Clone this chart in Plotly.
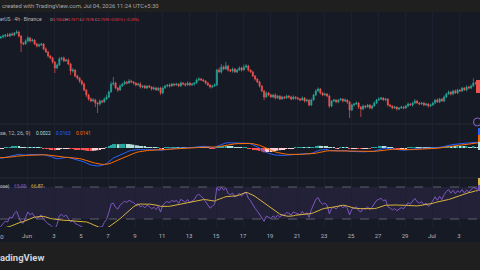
import numpy as np
import pandas as pd
import plotly.graph_objects as go

# ---------------- data ----------------
# closes of the candles before the visible window (used only to warm up indicators)
warmup_closes = [0.994, 0.989, 0.9915, 0.9865, 0.984, 0.9865, 0.9815, 0.979, 0.9815, 0.9765,
                 0.974, 0.9765, 0.9715, 0.969, 0.9715, 0.9665, 0.964, 0.9665, 0.9615, 0.964,
                 0.959, 0.9565, 0.959, 0.954, 0.9565, 0.9515, 0.954, 0.949, 0.9515, 0.9465,
                 0.9415, 0.934, 0.9365, 0.9265, 0.9215, 0.924, 0.914, 0.909, 0.9115, 0.9015,
                 0.8965, 0.899, 0.8915, 0.8865, 0.889, 0.8815, 0.8765, 0.879, 0.874]

# 4h closes, 2026-05-30 01:30 -> 2026-07-04 09:30 (UTC+5:30)
closes = [
    0.8765, 0.879, 0.8815, 0.879, 0.884, 0.8815,     # May 30
    0.8865, 0.889, 0.879, 0.8615, 0.859, 0.8665,     # May 31
    0.874, 0.8665, 0.869, 0.859, 0.854, 0.8565,      # Jun 1
    0.859, 0.8465, 0.839, 0.829, 0.824, 0.814,       # Jun 2
    0.799, 0.8065, 0.8215, 0.824, 0.8165, 0.819,     # Jun 3
    0.809, 0.7915, 0.794, 0.779, 0.774, 0.7665,      # Jun 4
    0.759, 0.744, 0.7315, 0.7215, 0.7165, 0.719,     # Jun 5
    0.7115, 0.709, 0.7165, 0.714, 0.7215, 0.7265,    # Jun 6
    0.739, 0.759, 0.7615, 0.749, 0.744, 0.754,       # Jun 7
    0.759, 0.764, 0.7615, 0.7665, 0.764, 0.7615,     # Jun 8
    0.7565, 0.759, 0.7515, 0.754, 0.749, 0.754,      # Jun 9
    0.7515, 0.7465, 0.749, 0.744, 0.749, 0.7365,     # Jun 10
    0.749, 0.754, 0.7565, 0.754, 0.759, 0.7565,      # Jun 11
    0.759, 0.754, 0.7615, 0.759, 0.7565, 0.7615,     # Jun 12
    0.7565, 0.759, 0.7615, 0.769, 0.7715, 0.769,     # Jun 13
    0.7665, 0.7615, 0.7565, 0.7515, 0.754, 0.7565,   # Jun 14
    0.794, 0.789, 0.8015, 0.7965, 0.804, 0.794,      # Jun 15
    0.7915, 0.7965, 0.789, 0.794, 0.799, 0.794,      # Jun 16
    0.8015, 0.804, 0.794, 0.789, 0.779, 0.7715,      # Jun 17
    0.764, 0.754, 0.7415, 0.7265, 0.7365, 0.7315,    # Jun 18
    0.7265, 0.7315, 0.724, 0.729, 0.7215, 0.7265,    # Jun 19
    0.724, 0.729, 0.7265, 0.7215, 0.7265, 0.724,     # Jun 20
    0.7215, 0.719, 0.724, 0.7165, 0.719, 0.7065,     # Jun 21
    0.719, 0.7315, 0.7415, 0.7465, 0.7365, 0.7315,   # Jun 22
    0.734, 0.729, 0.704, 0.7165, 0.719, 0.714,       # Jun 23
    0.719, 0.7215, 0.7165, 0.719, 0.714, 0.694,      # Jun 24
    0.7065, 0.709, 0.7115, 0.7015, 0.6965, 0.704,    # Jun 25
    0.7015, 0.7065, 0.699, 0.704, 0.7115, 0.719,     # Jun 26
    0.7215, 0.724, 0.719, 0.7215, 0.7065, 0.704,     # Jun 27
    0.699, 0.7015, 0.6965, 0.699, 0.7015, 0.699,     # Jun 28
    0.704, 0.709, 0.7065, 0.7115, 0.7165, 0.7115,    # Jun 29
    0.709, 0.7115, 0.7065, 0.709, 0.704, 0.7065,     # Jun 30
    0.7115, 0.719, 0.714, 0.7215, 0.7165, 0.7265,    # Jul 1
    0.734, 0.739, 0.734, 0.7415, 0.7365, 0.744,      # Jul 2
    0.7415, 0.749, 0.744, 0.7515, 0.749, 0.754,      # Jul 3
    0.7615, 0.7604, 0.7590,                          # Jul 4
]

upper_wick = [
    .003, .004, .002, .005, .003, .004,  .002, .005, .003, .002, .003, .004,
    .005, .003, .004, .002, .003, .004,  .003, .002, .004, .003, .002, .003,
    .002, .004, .005, .003, .004, .003,  .004, .003, .005, .002, .003, .002,
    .003, .004, .002, .003, .004, .005,  .003, .002, .004, .003, .004, .006,
    .004, .006, .015, .003, .002, .004,  .003, .004, .002, .005, .003, .002,
    .002, .003, .004, .002, .003, .002,  .003, .002, .004, .003, .002, .003,
    .004, .003, .002, .004, .003, .002,  .003, .002, .004, .002, .003, .004,
    .002, .003, .002, .004, .005, .003,  .003, .002, .003, .002, .003, .004,
    .003, .006, .008, .004, .010, .003,  .003, .004, .002, .003, .004, .003,
    .006, .005, .003, .002, .003, .002,  .002, .003, .002, .003, .004, .003,
    .003, .002, .004, .003, .002, .003,  .002, .003, .002, .003, .004, .002,
    .003, .002, .004, .002, .003, .002,  .004, .003, .005, .004, .002, .003,
    .003, .002, .003, .002, .003, .002,  .002, .003, .002, .004, .002, .003,
    .003, .002, .004, .002, .003, .004,  .002, .003, .002, .003, .004, .003,
    .004, .003, .002, .003, .002, .003,  .002, .003, .002, .002, .003, .002,
    .003, .004, .002, .003, .005, .002,  .002, .003, .002, .003, .002, .003,
    .003, .002, .004, .003, .002, .004,  .003, .004, .002, .003, .004, .003,
    .002, .003, .002, .004, .003, .004,  .0115, .003, .0067,
]

lower_wick = [
    .002, .003, .004, .002, .003, .002,  .003, .002, .004, .0225, .003, .002,
    .003, .004, .002, .003, .004, .003,  .002, .003, .002, .004, .003, .004,
    .0125, .003, .002, .004, .003, .002,  .003, .010, .004, .003, .004, .005,
    .004, .003, .005, .004, .003, .002,  .010, .0225, .004, .003, .002, .003,
    .003, .002, .004, .003, .005, .002,  .002, .003, .004, .002, .003, .004,
    .003, .002, .004, .003, .002, .003,  .002, .004, .003, .002, .003, .005,
    .003, .002, .003, .004, .002, .003,  .002, .003, .002, .003, .004, .002,
    .003, .002, .004, .002, .003, .002,  .002, .004, .003, .004, .003, .002,
    .003, .002, .004, .003, .002, .004,  .003, .004, .002, .003, .002, .004,
    .002, .003, .004, .002, .003, .004,  .003, .004, .003, .008, .002, .003,
    .002, .003, .004, .002, .003, .002,  .003, .002, .004, .003, .002, .004,
    .002, .003, .002, .004, .003, .003,  .003, .002, .003, .002, .004, .003,
    .002, .003, .005, .003, .002, .003,  .003, .002, .004, .003, .005, .020,
    .003, .004, .002, .005, .020, .003,  .004, .002, .003, .004, .002, .003,
    .002, .003, .002, .003, .004, .003,  .003, .002, .004, .003, .002, .003,
    .002, .003, .002, .004, .003, .002,  .003, .002, .003, .002, .004, .003,
    .002, .003, .002, .003, .002, .003,  .003, .002, .004, .003, .002, .003,
    .002, .003, .002, .003, .002, .003,  .002, .003, .0012,
]

tick_dates = ["2026-05-30", "2026-06-01", "2026-06-03", "2026-06-05", "2026-06-07",
              "2026-06-09", "2026-06-11", "2026-06-13", "2026-06-15", "2026-06-17",
              "2026-06-19", "2026-06-21", "2026-06-23", "2026-06-25", "2026-06-27",
              "2026-06-29", "2026-07-01", "2026-07-03"]
tick_labels = ["30", "Jun", "3", "5", "7", "9", "11", "13", "15", "17", "19", "21",
               "23", "25", "27", "29", "Jul", "3"]

# ---------------- derived series ----------------
first_time = pd.Timestamp("2026-05-30 01:30")
times = pd.date_range(first_time, periods=len(closes), freq="4h")
warm_times = pd.date_range(end=first_time - pd.Timedelta(hours=4),
                           periods=len(warmup_closes), freq="4h")
all_times = warm_times.append(times)

opens = [warmup_closes[-1]] + closes[:-1]
highs = [max(o, c) + u for o, c, u in zip(opens, closes, upper_wick)]
lows = [min(o, c) - d for o, c, d in zip(opens, closes, lower_wick)]

s = pd.Series(warmup_closes + closes)
ema12 = s.ewm(span=12, adjust=False).mean()
ema26 = s.ewm(span=26, adjust=False).mean()
macd = ema12 - ema26
signal = macd.ewm(span=9, adjust=False).mean()
hist = macd - signal
hist_colors = []
prev = 0.0
for h in hist:
    if h >= 0:
        hist_colors.append("#26a69a" if h > prev else "#b2dfdb")
    else:
        hist_colors.append("#ff5252" if h < prev else "#ffcdd2")
    prev = h

delta = s.diff().fillna(0)
gain = delta.clip(lower=0)
loss = -delta.clip(upper=0)
avg_gain = gain.ewm(alpha=1 / 14, adjust=False).mean()
avg_loss = loss.ewm(alpha=1 / 14, adjust=False).mean()
rsi = 100 - 100 / (1 + avg_gain / avg_loss)
rsi_ma = rsi.rolling(14).mean()

# MACD pane scale: deepest visible value sits 18 px under the zero line
nw = len(warmup_closes)
macd_low = min(macd[nw:].min(), signal[nw:].min())
k = -macd_low / 18.0

# ---------------- styling ----------------
BG = "#161a25"
BAR = "#1f1f1f"
UP = "#26a69a"
DOWN = "#ef5350"
TXT = "#b2b5be"
FONT = "Roboto"
W, H = 480, 270


def py(px):
    return 1 - px / H


fig = go.Figure()
fig.add_trace(go.Candlestick(
    x=times, open=opens, high=highs, low=lows, close=closes,
    increasing=dict(line=dict(color=UP, width=0.7), fillcolor=UP),
    decreasing=dict(line=dict(color=DOWN, width=0.7), fillcolor=DOWN),
    whiskerwidth=0, xaxis="x", yaxis="y", hoverinfo="skip"))

fig.add_trace(go.Bar(x=all_times, y=hist, marker=dict(color=hist_colors, line=dict(width=0)),
                     width=4 * 3600 * 1000 * 0.75, xaxis="x2", yaxis="y2", hoverinfo="skip"))
fig.add_trace(go.Scatter(x=all_times, y=macd, mode="lines", line=dict(color="#2962ff", width=1),
                         xaxis="x2", yaxis="y2", hoverinfo="skip"))
fig.add_trace(go.Scatter(x=all_times, y=signal, mode="lines", line=dict(color="#ff6d00", width=1),
                         xaxis="x2", yaxis="y2", hoverinfo="skip"))

fig.add_trace(go.Scatter(x=all_times, y=rsi, mode="lines", line=dict(color="#7e57c2", width=1),
                         xaxis="x3", yaxis="y3", hoverinfo="skip"))
fig.add_trace(go.Scatter(x=all_times, y=rsi_ma, mode="lines", line=dict(color="#d9b43c", width=1),
                         xaxis="x3", yaxis="y3", hoverinfo="skip"))

xr = ["2026-05-30 00:00", "2026-07-04 13:20"]
grid = "#1c2030"
shown_labels = [""] + tick_labels[1:]   # first label is drawn half-cut at the left edge below
common_x = dict(range=xr, showline=False, zeroline=False, showgrid=True, gridcolor=grid,
                gridwidth=1, tickvals=tick_dates, fixedrange=True)
fig.update_layout(
    width=W, height=H, margin=dict(l=0, r=0, t=0, b=0),
    paper_bgcolor=BG, plot_bgcolor="rgba(0,0,0,0)", showlegend=False, hovermode=False,
    font=dict(family=FONT, color=TXT),
    xaxis=dict(common_x, domain=[0, 1], anchor="y", showticklabels=False,
               rangeslider=dict(visible=False)),
    xaxis2=dict(common_x, domain=[0, 1], anchor="y2", matches="x", showticklabels=False),
    xaxis3=dict(common_x, domain=[0, 1], anchor="y3", matches="x", ticktext=shown_labels,
                ticks="outside", ticklen=3, tickcolor=BG, ticklabeloverflow="allow",
                tickfont=dict(family=FONT, size=6, color=TXT)),
    yaxis=dict(domain=[py(123), py(12)], range=[0.969 - 123 / 400, 0.969 - 12 / 400],
               showgrid=False, zeroline=False, showticklabels=False, fixedrange=True),
    yaxis2=dict(domain=[py(177), py(125)], range=[-29 * k, 23 * k],
                showgrid=False, zeroline=False, showticklabels=False, fixedrange=True),
    yaxis3=dict(domain=[py(227), py(179)], range=[20, 80],
                showgrid=False, zeroline=False, showticklabels=False, fixedrange=True),
)

shapes = [
    # top and bottom bars
    dict(type="rect", xref="paper", yref="paper", x0=0, x1=1, y0=py(12), y1=1,
         fillcolor=BAR, line=dict(width=0), layer="above"),
    dict(type="rect", xref="paper", yref="paper", x0=0, x1=1, y0=0, y1=py(242),
         fillcolor=BAR, line=dict(width=0), layer="above"),
    # pane separators
    dict(type="line", xref="paper", yref="paper", x0=0, x1=1, y0=py(124), y1=py(124),
         line=dict(color="#262a36", width=1), layer="above"),
    dict(type="line", xref="paper", yref="paper", x0=0, x1=1, y0=py(178), y1=py(178),
         line=dict(color="#262a36", width=1), layer="above"),
    # RSI band
    dict(type="rect", xref="paper", yref="y3", x0=0, x1=1, y0=30, y1=70,
         fillcolor="rgba(126,87,194,0.12)", line=dict(width=0), layer="below"),
    dict(type="line", xref="paper", yref="y3", x0=0, x1=1, y0=70, y1=70,
         line=dict(color="#5d606b", width=1, dash="dash"), layer="below"),
    dict(type="line", xref="paper", yref="y3", x0=0, x1=1, y0=30, y1=30,
         line=dict(color="#5d606b", width=1, dash="dash"), layer="below"),
    # cut-off value tags on the right edge
    dict(type="rect", xref="paper", yref="paper", x0=476 / W, x1=1, y0=py(93), y1=py(80),
         fillcolor=DOWN, line=dict(width=0), layer="above"),
    dict(type="rect", xref="paper", yref="paper", x0=478 / W, x1=1, y0=py(135), y1=py(128),
         fillcolor="#2962ff", line=dict(width=0), layer="above"),
    dict(type="rect", xref="paper", yref="paper", x0=478 / W, x1=1, y0=py(142), y1=py(135),
         fillcolor="#ff6d00", line=dict(width=0), layer="above"),
    dict(type="rect", xref="paper", yref="paper", x0=478 / W, x1=1, y0=py(150), y1=py(142),
         fillcolor="#b2dfdb", line=dict(width=0), layer="above"),
    dict(type="rect", xref="paper", yref="paper", x0=478 / W, x1=1, y0=py(185), y1=py(178),
         fillcolor="#d9b43c", line=dict(width=0), layer="above"),
    dict(type="rect", xref="paper", yref="paper", x0=478 / W, x1=1, y0=py(191), y1=py(185),
         fillcolor="#7e57c2", line=dict(width=0), layer="above"),
    dict(type="circle", xref="paper", yref="paper", x0=473.5 / W, x1=481 / W,
         y0=py(126), y1=py(118), line=dict(color="#8e62d0", width=1), layer="above"),
]
fig.update_layout(shapes=shapes)


def note(x, y, text, size=4.8, color=TXT, anchor="left"):
    fig.add_annotation(xref="paper", yref="paper", x=x / W, y=py(y), text=text,
                       showarrow=False, xanchor=anchor, yanchor="middle",
                       font=dict(family=FONT, size=size, color=color), borderpad=0)


def col(t, c):
    return "<span style='color:%s'>%s</span>" % (c, t)


RED = "#f23645"
note(1, 6, "created with TradingView.com, Jul 04, 2026 11:24 UTC+5:30", size=5.9, color="#a3a6af")

note(-1, 19, "erUS · 4h · Binance", size=5.0)
note(48.5, 19, "O" + col("0.7604", RED), size=3.8)
note(63.5, 19, "H" + col("0.7671", RED), size=3.8)
note(79, 19, "L" + col("0.7578", RED), size=3.8)
note(93.5, 19, "C" + col("0.7590", RED), size=3.8)
note(108, 19, "−0.0015 (−0.20%)", size=3.8, color=RED)

note(-1, 134, "se, 12, 26, 9)", size=5.5)
note(35, 134, "0.0022", color="#b2dfdb")
note(55, 134, "0.0163", color="#2962ff")
note(75, 134, "0.0141", color="#ff6d00")

note(-1, 186, "ose)")
note(13, 186, "65.95", color="#7e57c2")
note(30, 186, "66.87", color="#d9b43c")

# first date label, centred on the left edge so that only its right half shows
note(0, 236.5, tick_labels[0], size=6, anchor="center")

fig.add_annotation(xref="paper", yref="paper", x=45 / W, y=py(257), text="<b>TradingView</b>",
                   showarrow=False, xanchor="right", yanchor="middle",
                   font=dict(family=FONT, size=9.5, color="#d1d4dc"), borderpad=0)

fig.write_html("out.html")
